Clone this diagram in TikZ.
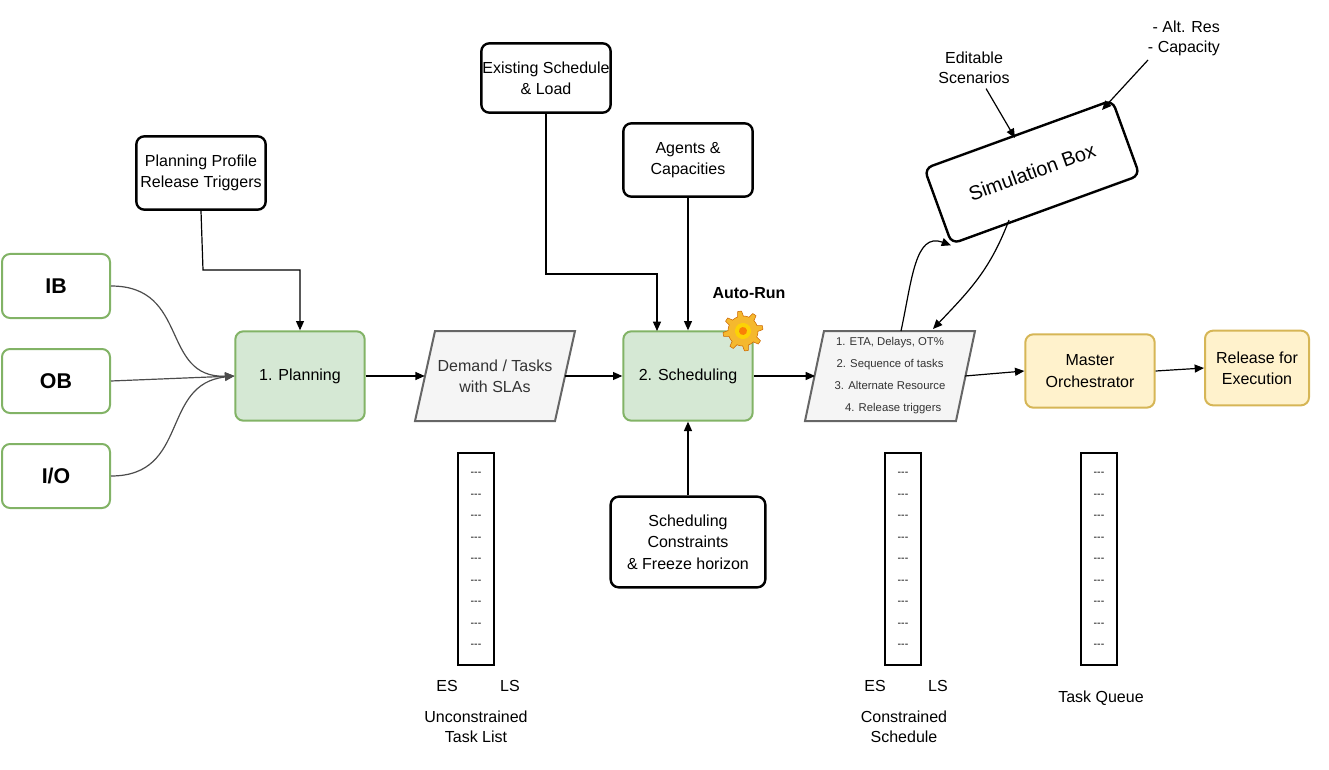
\documentclass[tikz,border=0pt]{standalone}
\usepackage{fontspec}
\setmainfont{Liberation Sans}
\usetikzlibrary{arrows.meta}
\definecolor{gfill}{HTML}{D5E8D4}\definecolor{gline}{HTML}{82B366}
\definecolor{yfill}{HTML}{FFF2CC}\definecolor{yline}{HTML}{D6B656}
\definecolor{pfill}{HTML}{F5F5F5}\definecolor{pline}{HTML}{666666}
\definecolor{gold}{HTML}{F5B82E}
\begin{document}
\begin{tikzpicture}[x=0.75pt,y=-0.75pt,
 box/.style={draw,rounded corners=6pt,line width=1.8pt,align=center,inner sep=0pt,font=\fontsize{12}{16}\selectfont},
 src/.style={draw=gline,rounded corners=6pt,line width=1.5pt,minimum width=81pt,minimum height=48pt,font=\fontsize{16}{18}\selectfont\bfseries},
 stp/.style={draw=gline,fill=gfill,rounded corners=6pt,line width=1.5pt,minimum width=97pt,minimum height=67pt,font=\fontsize{12}{15}\selectfont},
 ybox/.style={draw=yline,fill=yfill,rounded corners=6pt,line width=1.5pt,align=center,font=\fontsize{12}{16}\selectfont},
 para/.style={inner sep=0pt,minimum height=67pt,align=center},
 pshape/.style={draw=pline,fill=pfill,line width=1.5pt},
 arr/.style={-{Triangle[length=7pt,width=6pt]},line width=0.9pt},
 lst/.style={draw,line width=0.8pt,minimum width=27pt,minimum height=159pt},
 lbl/.style={font=\fontsize{12}{15}\selectfont,align=center}]
\useasboundingbox (0,0) rectangle (1329,770);
% sources
\node[src] (ib) at (56,286) {IB};
\node[src] (ob) at (56,381) {OB};
\node[src] (io) at (56,476) {I/O};
\node[stp] (plan) at (300,376) {1. Planning};
\node[box,minimum width=97pt,minimum height=55pt] (pp) at (201,173) {Planning Profile\\Release Triggers};
% demand parallelogram
\node[para,minimum width=105pt] (dem) at (495,376) {};
\fill[pshape] (435,331) -- (575,331) -- (555,421) -- (415,421) -- cycle;
\node[font=\fontsize{12}{16}\selectfont,align=center,text=black!80] at (dem) {Demand / Tasks\\with SLAs};
\node[stp] (sch) at (688,376) {2. Scheduling};
\node[box,minimum width=97pt,minimum height=52pt] (ex) at (546,78) {Existing Schedule\\\& Load};
\node[box,minimum width=97pt,minimum height=55pt] (ag) at (688,160) {Agents \&\\Capacities};
\node[box,minimum width=116pt,minimum height=68pt] (con) at (688,542) {Scheduling\\Constraints\\\& Freeze horizon};
% output parallelogram
\node[para,minimum width=112pt] (out) at (890,376) {};
\fill[pshape] (824,331) -- (975,331) -- (956,421) -- (805,421) -- cycle;
\node[font=\fontsize{8.5}{16.5}\selectfont,align=center,text=black!80] at (out) {1. ETA, Delays, OT\%\\2. Sequence of tasks\\3. Alternate Resource\\\ \ 4. Release triggers};
\node[ybox,minimum width=97pt,minimum height=55pt] (mo) at (1090,371) {Master\\Orchestrator};
\node[ybox,minimum width=78pt,minimum height=56pt] (rel) at (1257,368) {Release for\\Execution};
\node[box,rotate=20,minimum width=150pt,minimum height=60pt,font=\fontsize{15}{18}\selectfont] (sim) at (1032,172) {Simulation Box};
\node[lbl] (ed) at (974,68) {Editable\\Scenarios};
\node[lbl] (alt) at (1184,38) {\ - Alt. Res\\- Capacity};
\node[font=\fontsize{12}{15}\selectfont\bfseries] (auto) at (749,293) {Auto-Run};
% gear
\begin{scope}[shift={(743,331)},rotate=10]
\fill[gold,draw=orange!80!black,line width=0.4pt]
 plot[smooth cycle,samples=64,domain=0:354.375,variable=\t] ({(15+5*(cos(8*\t)>0?1:0))*cos(\t)},{(15+5*(cos(8*\t)>0?1:0))*sin(\t)});
\fill[yellow!70!orange] (0,0) circle (8);
\fill[orange!90!brown] (0,0) circle (4);
\end{scope}
% lists
\node[lst] (l1) at (476,559) {};
\node[lst] (l2) at (903,559) {};
\node[lst] (l3) at (1099,559) {};
\foreach \x in {476,903,1099}{\foreach \i in {0,...,8}{\node[font=\fontsize{8}{8}\selectfont] at (\x,474+21.5*\i) {{-}{-}{-}};}}
\node[lbl] (es1) at (447,686) {ES}; \node[lbl] (ls1) at (510,686) {LS};
\node[lbl] (ut) at (476,727) {Unconstrained\\Task List};
\node[lbl] (es2) at (875,686) {ES}; \node[lbl] (ls2) at (938,686) {LS};
\node[lbl] (cs) at (904,727) {Constrained\\Schedule};
\node[lbl] (tq) at (1101,698) {Task Queue};
% connectors
\draw[arr,draw=black!70] (ib.east) .. controls (190,286) and (160,378) .. (plan.west);
\draw[arr,draw=black!70] (ob.east) -- (plan.west);
\draw[arr,draw=black!70] (io.east) .. controls (190,476) and (160,384) .. (plan.west);
\draw[arr] (pp.south) -- (203,270) -- (300,270) -- (plan.north);
\draw[arr] (plan.east) -- (dem.west);
\draw[arr] (dem.east) -- (sch.west);
\draw[arr] (ex.south) -- (546,274) -- (657,274) -- (657,331);
\draw[arr] (ag.south) -- (sch.north);
\draw[arr] (con.north) -- (sch.south);
\draw[arr] (sch.east) -- (out.west);
\draw[arr] (out.east) -- (mo.west);
\draw[arr] (mo.east) -- (rel.west);
\coordinate (o1) at (901,331);
\coordinate (o2) at (933,329);
\draw[arr] (o1) .. controls (912,280) and (915,232) .. (sim.south west);
\draw[arr] (1009,220) .. controls (990,270) and (970,290) .. (o2);
\draw[arr] (ed) -- (1015,138);
\draw[arr] (1148,60) -- (1102,110);
\end{tikzpicture}
\end{document}
